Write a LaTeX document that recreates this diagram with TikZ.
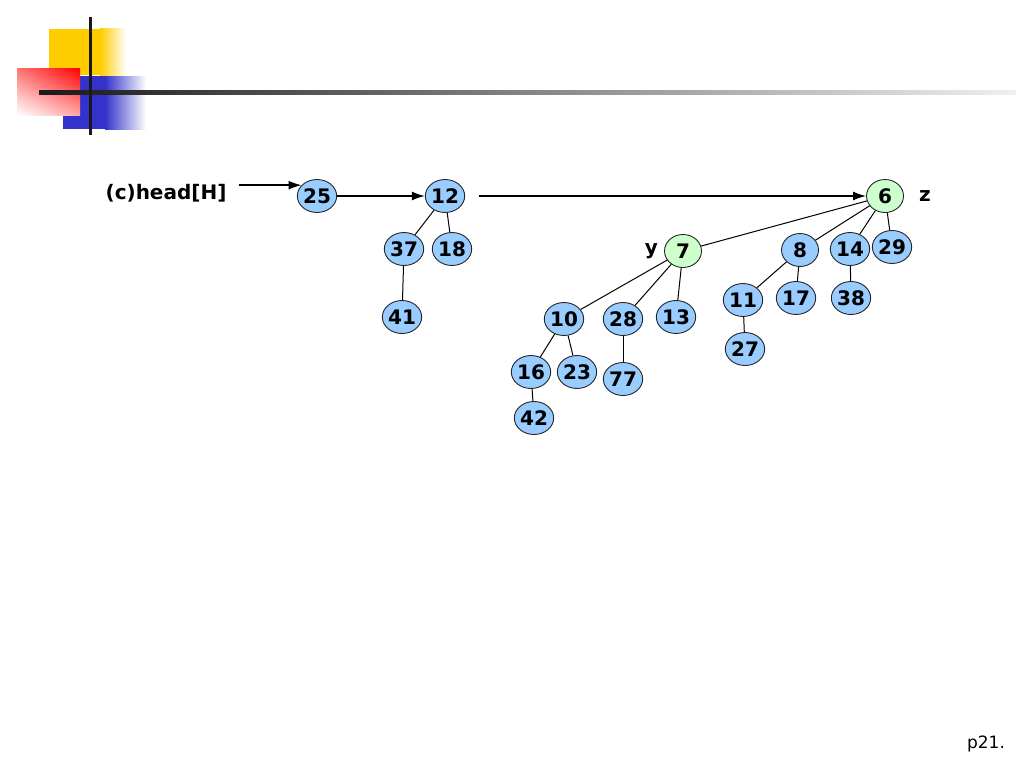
\documentclass[tikz,border=0pt]{standalone}
\usepackage{fontspec}
\setmainfont{DejaVu Sans}
\usetikzlibrary{shapes.geometric,positioning,shadings,arrows.meta}
\definecolor{keyblue}{HTML}{99CCFF}
\definecolor{keygreen}{HTML}{CCFFCC}
\definecolor{logoyellow}{HTML}{FFCC00}
\definecolor{logoblue}{HTML}{3333CC}
\begin{document}
\begin{tikzpicture}[x=1pt,y=-1pt,
    keynode/.style={ellipse,draw=black!85,line width=0.9pt,fill=keyblue,minimum width=37pt,
        minimum height=33pt,inner sep=0pt,font=\fontsize{20}{24}\selectfont\bfseries},
    minnode/.style={keynode,fill=keygreen},
    tag/.style={inner sep=0pt,font=\fontsize{20}{24}\selectfont\bfseries},
    link/.style={line width=1.4pt,-{Latex[length=13pt,width=9pt]}},
    child/.style={line width=1pt}]
    \useasboundingbox (0,0) rectangle (1024,768);

    % slide logo
    \fill[logoyellow] (49,29) rectangle (100,75);
    \shade[left color=logoyellow,right color=white] (100,29) rectangle (126,75);
    \fill[logoblue] (63,76) rectangle (105,129);
    \shade[left color=logoblue,right color=white] (105,76) rectangle (146,129);
    \shade[upper right=red,upper left=red!55!white,lower right=red!35!white,lower left=white]
        (17,68) rectangle (80,115);
    \shade[left color=black!90,right color=black!6] (39,90.5) rectangle (1016,94);
    \fill[black!90] (88.5,17) rectangle (91.5,135);

    % root list
    \node[tag,anchor=base] (head) at (166,199) {(c)head[H]};
    \foreach \k/\x/\y in {25/317/196, 12/445/196, 37/404/249, 18/452/249, 41/402/317,
        8/800/250, 14/850/249, 29/892/247, 11/743/300, 17/796/298, 38/851/298, 27/745/349,
        10/564/319, 28/623/319, 13/676/317, 16/531/372, 23/577/372, 77/623/379, 42/534/418}
        \node[keynode] (n\k) at (\x,\y) {\k};
    \node[minnode] (n6) at (885,196) {6};
    \node[minnode] (n7) at (683,251) {7};
    \node[tag,left=6pt of n7] (ylabel) {y};
    \node[tag,right=15pt of n6] (zlabel) {z};

    \draw[link] ([xshift=12pt]head.east |- n25.145) -- (n25.145);
    \draw[link] (n25) -- (n12);
    \draw[link,shorten <=14pt] (n12) -- (n6);

    % children
    \foreach \a/\b in {12/37, 12/18, 37/41, 6/7, 6/8, 6/14, 6/29, 8/11, 8/17, 14/38, 11/27,
        7/10, 7/28, 7/13, 10/16, 10/23, 28/77, 16/42}
        \draw[child] (n\a) -- (n\b);

    \node[font=\fontsize{17}{20}\selectfont] (page) at (986,744) {p21.};
\end{tikzpicture}
\end{document}
